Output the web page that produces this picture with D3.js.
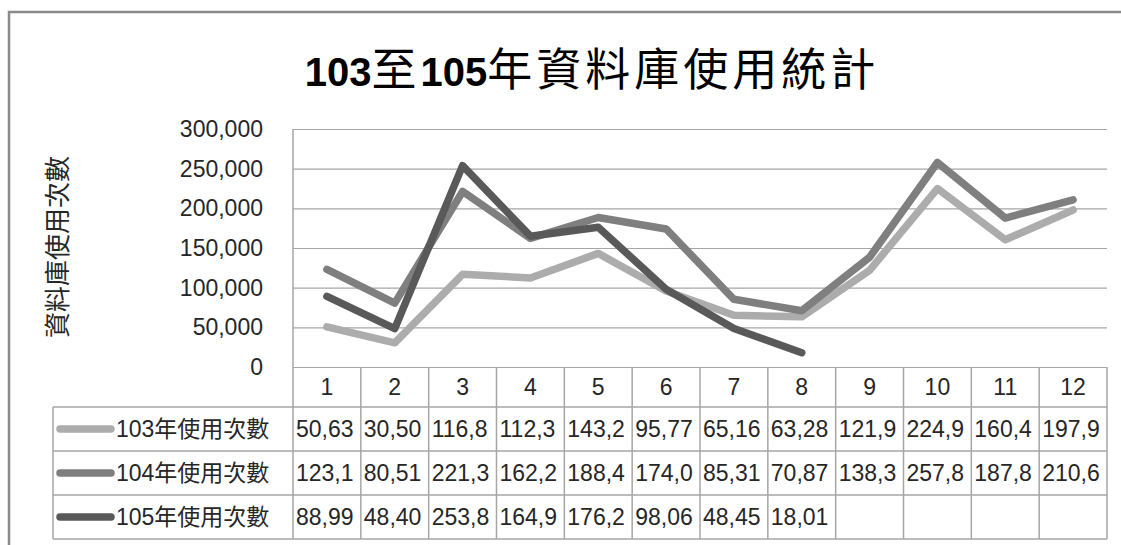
<!DOCTYPE html>
<html>
<head>
<meta charset="utf-8">
<script src="https://cdn.jsdelivr.net/npm/d3@7"></script>
<style>
  body { margin: 0; background: #fff; }
  svg { display: block; }
  text { font-family: 'Liberation Sans', 'Noto Sans CJK TC', sans-serif; fill: #262626; }
</style>
</head>
<body>
<svg id="chart" width="1121" height="545"></svg>
<script>
/* eslint-env browser */
/* global d3: false */

const months = ['1', '2', '3', '4', '5', '6', '7', '8', '9', '10', '11', '12'];
const seriesNames = ['103年使用次數', '104年使用次數', '105年使用次數'];
const usage103 = [50630, 30500, 116800, 112300, 143200, 95770, 65160, 63280, 121900, 224900, 160400, 197900];
const usage104 = [123100, 80510, 221300, 162200, 188400, 174000, 85310, 70870, 138300, 257800, 187800, 210600];
const usage105 = [88990, 48400, 253800, 164900, 176200, 98060, 48450, 18010];
const yTicks = [0, 50000, 100000, 150000, 200000, 250000, 300000];
const seriesColors = ['#acacac', '#7f7f7f', '#595959'];

const series = [usage103, usage104, usage105].map((values, i) => ({
  name: seriesNames[i],
  color: seriesColors[i],
  values,
}));

const svg = d3.select('#chart');

// outer chart frame (only top and left edges show in the crop)
svg.append('path')
  .attr('d', 'M9,545V12H1121')
  .attr('fill', 'none')
  .attr('stroke', '#8a8a8a')
  .attr('stroke-width', 2.5);

// title: latin digits bold, CJK regular
const title = svg.append('text')
  .attr('x', 592)
  .attr('y', 86)
  .attr('text-anchor', 'middle');
const titleParts = ['103', '至', '105', '年資料庫使用統計'];
titleParts.forEach((part) => {
  const isDigits = /^\d+$/.test(part);
  title.append('tspan')
    .text(part)
    .style('font-weight', isDigits ? 'bold' : 'normal')
    .style('font-size', isDigits ? '40px' : '45px')
    .style('letter-spacing', isDigits ? '0px' : '4px')
    .style('fill', '#000');
});

const plotLeft = 293;
const plotRight = 1107;
const plotTop = 129;
const plotBottom = 367;

const x = d3.scaleBand().domain(months).range([plotLeft, plotRight]);
const y = d3.scaleLinear().domain([0, 300000]).range([plotBottom, plotTop]);

// gridlines + tick labels
const yAxis = svg.append('g')
  .attr('transform', `translate(${plotLeft},0)`)
  .call(d3.axisLeft(y)
    .tickValues(yTicks)
    .tickSize(-(plotRight - plotLeft))
    .tickPadding(30)
    .tickFormat(d3.format(',')));
yAxis.select('.domain').remove();
yAxis.selectAll('.tick line').attr('stroke', '#a6a6a6').attr('stroke-width', 1.2);
yAxis.selectAll('.tick text')
  .style('font-size', '23px')
  .style('font-family', "'Liberation Sans', sans-serif")
  .attr('fill', '#262626');

// left edge of the plot area
svg.append('line')
  .attr('x1', plotLeft).attr('x2', plotLeft)
  .attr('y1', plotTop).attr('y2', plotBottom)
  .attr('stroke', '#a6a6a6').attr('stroke-width', 1.5);

// axis title
svg.append('text')
  .attr('transform', 'translate(67,247) rotate(-90)')
  .attr('text-anchor', 'middle')
  .style('font-size', '26px')
  .style('font-family', "'Noto Sans CJK TC', sans-serif")
  .attr('fill', '#262626')
  .text('資料庫使用次數');

// lines
const line = d3.line()
  .defined((d) => d != null)
  .x((d, i) => x(months[i]) + x.bandwidth() / 2)
  .y((d) => y(d));

svg.append('g')
  .selectAll('path')
  .data(series)
  .join('path')
  .attr('d', (s) => line(s.values))
  .attr('fill', 'none')
  .attr('stroke', (s) => s.color)
  .attr('stroke-width', 7.5)
  .attr('stroke-linejoin', 'round')
  .attr('stroke-linecap', 'round');

// data table
const headerBottom = 407;
const rowHeight = 44;
const legendLeft = 53;
const tableBottom = headerBottom + rowHeight * series.length;
const gridColor = '#a6a6a6';

const table = svg.append('g');

// horizontal lines
[headerBottom, headerBottom + rowHeight, headerBottom + 2 * rowHeight, tableBottom].forEach((yy) => {
  table.append('line')
    .attr('x1', legendLeft).attr('x2', plotRight)
    .attr('y1', yy).attr('y2', yy)
    .attr('stroke', gridColor).attr('stroke-width', 1.5);
});

// vertical lines
const colEdges = months.map((m) => x(m)).concat([plotRight]);
colEdges.forEach((xx) => {
  table.append('line')
    .attr('x1', xx).attr('x2', xx)
    .attr('y1', plotBottom).attr('y2', tableBottom)
    .attr('stroke', gridColor).attr('stroke-width', 1.5);
});
table.append('line')
  .attr('x1', legendLeft).attr('x2', legendLeft)
  .attr('y1', headerBottom).attr('y2', tableBottom)
  .attr('stroke', gridColor).attr('stroke-width', 1.5);

// month headers
table.selectAll('text.month')
  .data(months)
  .join('text')
  .attr('class', 'month')
  .attr('x', (m) => x(m) + x.bandwidth() / 2)
  .attr('y', (plotBottom + headerBottom) / 2)
  .attr('dy', '0.36em')
  .attr('text-anchor', 'middle')
  .style('font-size', '23px')
  .text((m) => m);

// legend rows
const fmt = d3.format(',');
series.forEach((s, r) => {
  const cy = headerBottom + rowHeight * r + rowHeight / 2;
  table.append('line')
    .attr('x1', 60).attr('x2', 111)
    .attr('y1', cy).attr('y2', cy)
    .attr('stroke', s.color)
    .attr('stroke-width', 7.5)
    .attr('stroke-linecap', 'round');
  table.append('text')
    .attr('x', 116)
    .attr('y', cy)
    .attr('dy', '0.36em')
    .style('font-size', '23px')
    .text(s.name);

  // values, cut to whole characters that fit in the cell
  s.values.forEach((v, i) => {
    const cell = table.append('text')
      .attr('x', x(months[i]) + 3)
      .attr('y', cy)
      .attr('dy', '0.36em')
      .style('font-size', '23px')
      .text(fmt(v));
    const maxW = x.bandwidth() - 5;
    let str = fmt(v);
    while (str.length > 1 && cell.node().getComputedTextLength() > maxW) {
      str = str.slice(0, -1);
      cell.text(str);
    }
  });
});
</script>
</body>
</html>
